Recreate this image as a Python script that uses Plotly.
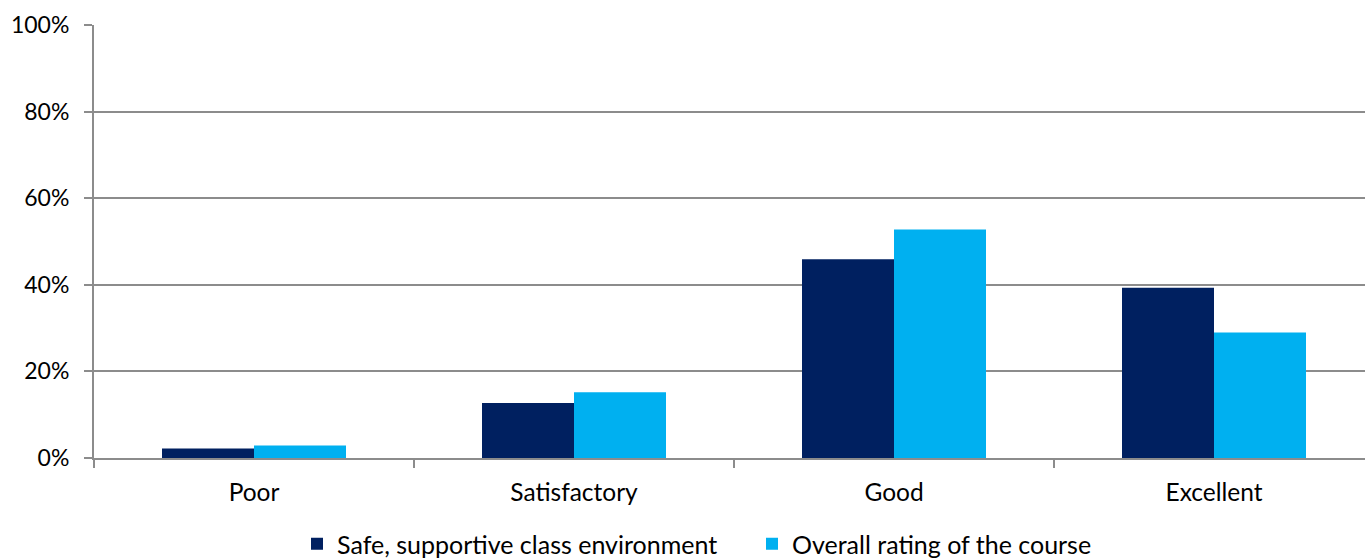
import plotly.graph_objects as go

categories = ["Poor", "Satisfactory", "Good", "Excellent"]
safe_env = [0.022, 0.127, 0.459, 0.393]
overall = [0.029, 0.152, 0.528, 0.290]
series_names = ["Safe, supportive class environment", "Overall rating of the course"]
y_ticks = [0, 0.2, 0.4, 0.6, 0.8, 1.0]

FONT = "Lato"
fig = go.Figure()
fig.add_trace(go.Bar(x=categories, y=safe_env, name=series_names[0],
                     marker=dict(color="#002060", line=dict(width=0))))
fig.add_trace(go.Bar(x=categories, y=overall, name=series_names[1],
                     marker=dict(color="#00B0F0", line=dict(width=0))))

fig.update_layout(
    width=1365, height=560,
    margin=dict(l=94, r=0, t=25, b=102, pad=0, autoexpand=False),
    paper_bgcolor="white", plot_bgcolor="white",
    barmode="group", bargap=0.425, bargroupgap=0,
    font=dict(family=FONT, size=24, color="#000000"),
    showlegend=True,
    legend=dict(orientation="h", x=(316 - 19) / 1365, xanchor="left", xref="container",
                y=(560 - 544) / 560, yanchor="middle", yref="container",
                font=dict(size=25), itemwidth=30, traceorder="normal",
                entrywidth=410),
)
fig.update_xaxes(
    range=[-0.5, -0.5 + (1365 - 94) / 320],
    showline=True, linecolor="#8c8c8c", linewidth=2,
    ticks="outside", tickson="boundaries", ticklen=8, tickcolor="#8c8c8c", tickwidth=2,
    showgrid=False, ticklabelstandoff=12, automargin=False,
    tickfont=dict(size=24.5),
)
fig.update_yaxes(
    range=[0, 1.0], tickvals=y_ticks, tickformat=".0%",
    showline=True, linecolor="#8c8c8c", linewidth=2,
    ticks="outside", ticklen=8, tickcolor="#8c8c8c", tickwidth=2,
    showgrid=True, gridcolor="#8c8c8c", gridwidth=2, zeroline=False,
    ticklabelstandoff=10, automargin=False,
    tickfont=dict(size=23),
)
fig.write_html("out.html", config={"displayModeBar": False},
               post_script="document.body.style.margin='0';document.body.style.overflow='hidden';")
